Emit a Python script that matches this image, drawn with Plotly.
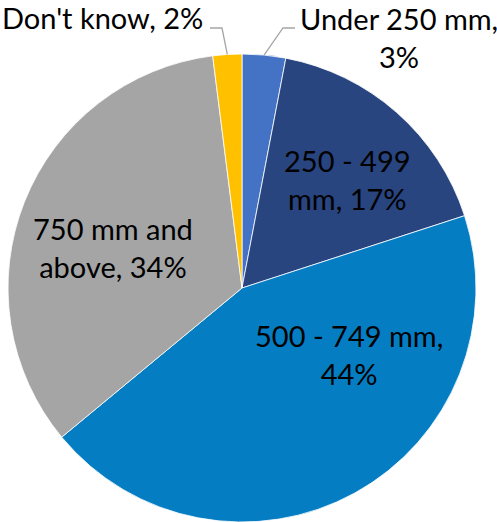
import math
import plotly.graph_objects as go

categories = ["Under 250 mm", "250 - 499 mm", "500 - 749 mm", "750 mm and above", "Don't know"]
values = [3, 17, 44, 34, 2]
colors = ["#4472C4", "#284580", "#047DC3", "#A5A5A5", "#FFC000"]

W, H = 497, 522
cx, cy, r = 242, 288, 234

fig = go.Figure(go.Pie(
    labels=categories,
    values=values,
    sort=False,
    direction="clockwise",
    rotation=0,
    marker=dict(colors=colors, line=dict(color="white", width=0.8)),
    textinfo="none",
    hoverinfo="label+percent",
    domain=dict(x=[(cx - r) / W, (cx + r) / W], y=[1 - (cy + r) / H, 1 - (cy - r) / H]),
    showlegend=False,
))

font = dict(family="Lato, Calibri, sans-serif", size=29, color="black")

def px(x, y):
    return x / W, 1 - y / H

labels = [
    ("Don't know, 2%", 102, 18),
    ("Under 250 mm,<br>3%", 399, 38),
    ("250 - 499<br>mm, 17%", 347, 179),
    ("750 mm and<br>above, 34%", 113, 247),
    ("500 - 749 mm,<br>44%", 349, 354),
]
annotations = []
for t, x, y in labels:
    ax, ay = px(x, y)
    annotations.append(dict(text=t, x=ax, y=ay, xref="paper", yref="paper",
                            showarrow=False, font=font, align="center",
                            xanchor="center", yanchor="middle"))

# leader lines from slice edge midpoints
total = sum(values)
cum = 0
mids = []
for v in values:
    mids.append((cum + v / 2) / total * 2 * math.pi)
    cum += v

shapes = []
def leader(angle, bend, end):
    sx = cx + r * math.sin(angle)
    sy = cy - r * math.cos(angle)
    pts = [(sx, sy), bend, end]
    path = "M " + " L ".join(f"{p[0] / W},{1 - p[1] / H}" for p in pts)
    shapes.append(dict(type="path", path=path, xref="paper", yref="paper",
                       line=dict(color="#A5A5A5", width=1.3)))

leader(mids[0], (283, 28), (295, 28))
leader(mids[4], (222, 28), (210, 28))

fig.update_layout(
    width=W, height=H,
    margin=dict(l=0, r=0, t=0, b=0),
    paper_bgcolor="white",
    plot_bgcolor="white",
    annotations=annotations,
    shapes=shapes,
)

fig.write_html("out.html")
